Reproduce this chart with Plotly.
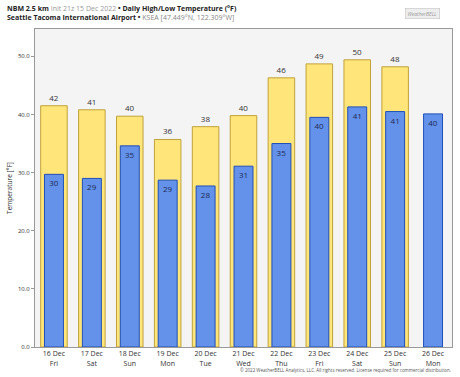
import plotly.graph_objects as go

days = ["16 Dec<br>Fri", "17 Dec<br>Sat", "18 Dec<br>Sun", "19 Dec<br>Mon", "20 Dec<br>Tue",
        "21 Dec<br>Wed", "22 Dec<br>Thu", "23 Dec<br>Fri", "24 Dec<br>Sat", "25 Dec<br>Sun",
        "26 Dec<br>Mon"]
highs = [41.5, 40.8, 39.7, 35.7, 37.9, 39.8, 46.3, 48.7, 49.4, 48.2, None]
lows = [29.7, 29.0, 34.6, 28.7, 27.7, 31.1, 35.0, 39.5, 41.3, 40.5, 40.1]
high_labels = ["42", "41", "40", "36", "38", "40", "46", "49", "50", "48", ""]
low_labels = ["30", "29", "35", "29", "28", "31", "35", "40", "41", "41", "40"]
yticks = [0, 10, 20, 30, 40, 50]

FONT = "Open Sans"
fig = go.Figure()
fig.add_trace(go.Bar(
    x=days, y=highs, width=0.7, text=high_labels, textposition="outside",
    textfont=dict(size=8, color="#333333"), cliponaxis=False,
    marker=dict(color="#FFE57A", line=dict(color="#BFA23A", width=1)),
    showlegend=False, hoverinfo="skip"))
fig.add_trace(go.Bar(
    x=days, y=lows, width=0.5, text=low_labels, textposition="inside",
    insidetextanchor="end", textangle=0,
    textfont=dict(size=8, color="#1a2a55"),
    marker=dict(color="#6492EA", line=dict(color="#1F4FB8", width=1)),
    showlegend=False, hoverinfo="skip"))

W, H = 460, 377
L, R, T, B = 35, 8, 29, 30
ph = H - T - B
pw = W - L - R

fig.update_layout(
    width=W, height=H, barmode="overlay", bargap=0.3,
    paper_bgcolor="white", plot_bgcolor="#F4F4F4",
    margin=dict(l=L, r=R, t=T, b=B, pad=0),
    font=dict(family=FONT, size=7, color="#333333"),
    uniformtext=dict(minsize=7, mode="show"),
    hovermode=False,
    xaxis=dict(showline=True, linecolor="#999999", mirror=True, ticks="",
               tickfont=dict(size=7, color="#333333"), showgrid=False, automargin=False),
    yaxis=dict(range=[0, 54.7], tickvals=yticks, ticktext=[f"{v:.1f}" for v in yticks],
               showline=True, linecolor="#999999", mirror=True, ticks="outside",
               ticklen=3, tickcolor="#999999", showgrid=False, zeroline=False,
               automargin=False,
               tickfont=dict(size=6, color="#333333"),
               title=dict(text="Temperature [°F]", font=dict(size=6.5, color="#333333"), standoff=4)),
)
fig.add_annotation(x=-30 / pw, y=1 + 27 / ph, xref="paper", yref="paper", xanchor="left", yanchor="top",
                   showarrow=False, align="left",
                   text="<b>NBM 2.5 km</b> <span style='color:#999999'>Init 21z 15 Dec 2022</span> <b>• Daily High/Low Temperature (°F)</b>"
                        "<br><b>Seattle Tacoma International Airport •</b> <span style='color:#888888'>KSEA [47.449°N, 122.309°W]</span>",
                   font=dict(size=7, color="#222222"))
fig.add_annotation(x=(422 - L) / pw, y=1 + 16 / ph, xref="paper", yref="paper", xanchor="center", yanchor="middle",
                   showarrow=False, text="<i>WeatherBELL</i>", font=dict(size=5, color="#999999"),
                   bgcolor="#EEEEEE", bordercolor="#BBBBBB", borderwidth=0.5, borderpad=2)
fig.add_annotation(x=1.0, y=-23 / ph, xref="paper", yref="paper", xanchor="right", yanchor="middle",
                   showarrow=False, borderpad=0,
                   text="© 2022 WeatherBELL Analytics, LLC. All rights reserved. License required for commercial distribution.",
                   font=dict(size=4.5, color="#555555"))
fig.write_html("out.html", config={"displayModeBar": False, "staticPlot": True},
               post_script="document.body.style.margin='0';")
